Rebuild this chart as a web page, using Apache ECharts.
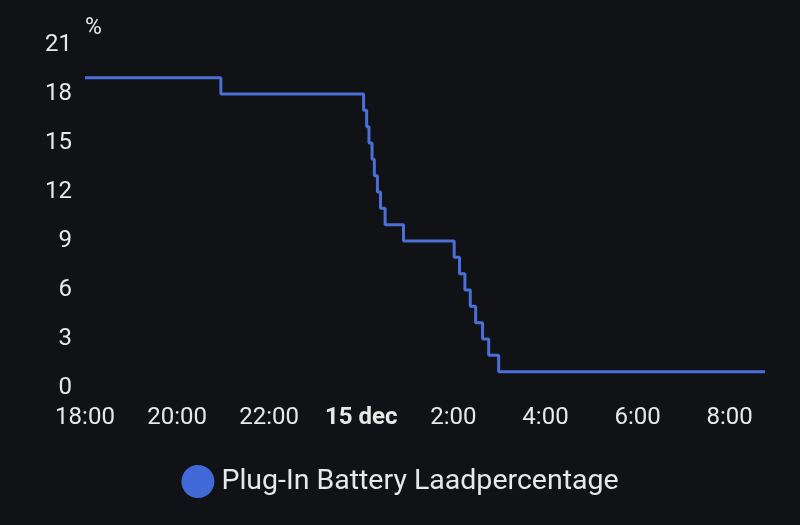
<!DOCTYPE html>
<html>
<head>
<meta charset="utf-8">
<script src="https://cdn.jsdelivr.net/npm/echarts@6/dist/echarts.min.js"></script>
<style>
  html, body { margin: 0; padding: 0; background: #111216; }
  #chart { width: 800px; height: 525px; }
</style>
</head>
<body>
<div id="chart"></div>
<script>
'use strict';

// change times and the new charge level at each time
var times = [
    '2023-12-14 18:00', '2023-12-14 20:57',
    '2023-12-15 00:03', '2023-12-15 00:07', '2023-12-15 00:10', '2023-12-15 00:14',
    '2023-12-15 00:17', '2023-12-15 00:21', '2023-12-15 00:25', '2023-12-15 00:31',
    '2023-12-15 00:55',
    '2023-12-15 02:01', '2023-12-15 02:08', '2023-12-15 02:15', '2023-12-15 02:22',
    '2023-12-15 02:29', '2023-12-15 02:38', '2023-12-15 02:46', '2023-12-15 02:59',
    '2023-12-15 08:46'
];
var levels = [19, 18, 17, 16, 15, 14, 13, 12, 11, 10, 9, 8, 7, 6, 5, 4, 3, 2, 1, 1];
var yTicks = [0, 3, 6, 9, 12, 15, 18, 21];
var seriesName = 'Plug-In Battery Laadpercentage';

var points = [];
for (var i = 0; i < times.length; i++) {
    points.push([times[i], levels[i]]);
}

var chart = echarts.init(document.getElementById('chart'));

var option = {
    backgroundColor: '#111216',
    animation: false,
    textStyle: { fontFamily: 'Roboto' },
    grid: { left: 85, right: 35, top: 45, bottom: 137, containLabel: false },
    legend: {
        bottom: 22,
        left: 'center',
        icon: 'circle',
        itemWidth: 33,
        itemHeight: 33,
        itemGap: 10,
        textStyle: { color: '#e8e8e8', fontSize: 28.5, fontFamily: 'Roboto', padding: [0, 0, 0, 2] },
        data: [seriesName]
    },
    xAxis: {
        type: 'time',
        min: times[0],
        max: times[times.length - 1],
        axisLine: { show: false },
        axisTick: { show: false },
        splitLine: { show: false },
        axisLabel: {
            color: '#e8e8e8',
            fontSize: 24,
            margin: 18,
            showMaxLabel: false,
            hideOverlap: false,
            // only every second hour gets a label, midnight shows the date
            formatter: function (value) {
                var d = new Date(value);
                if (d.getMinutes() !== 0 || d.getHours() % 2 !== 0) {
                    return '';
                }
                if (d.getHours() === 0) {
                    return '{b|' + d.getDate() + ' dec}';
                }
                return d.getHours() + ':00';
            },
            rich: {
                b: { fontWeight: 'bold', fontSize: 24, color: '#e8e8e8' }
            }
        }
    },
    yAxis: {
        type: 'value',
        min: yTicks[0],
        max: yTicks[yTicks.length - 1],
        interval: 3,
        name: '%',
        nameLocation: 'end',
        nameGap: 5,
        nameTextStyle: { color: '#e8e8e8', fontSize: 23, align: 'left' },
        axisLine: { show: false },
        axisTick: { show: false },
        splitLine: { show: false },
        axisLabel: { color: '#e8e8e8', fontSize: 24, margin: 13 }
    },
    series: [{
        name: seriesName,
        type: 'line',
        step: 'end',
        symbol: 'none',
        data: points,
        itemStyle: { color: '#4169d8' },
        lineStyle: { color: '#4a6fd6', width: 3 }
    }]
};

chart.setOption(option);
</script>
</body>
</html>
